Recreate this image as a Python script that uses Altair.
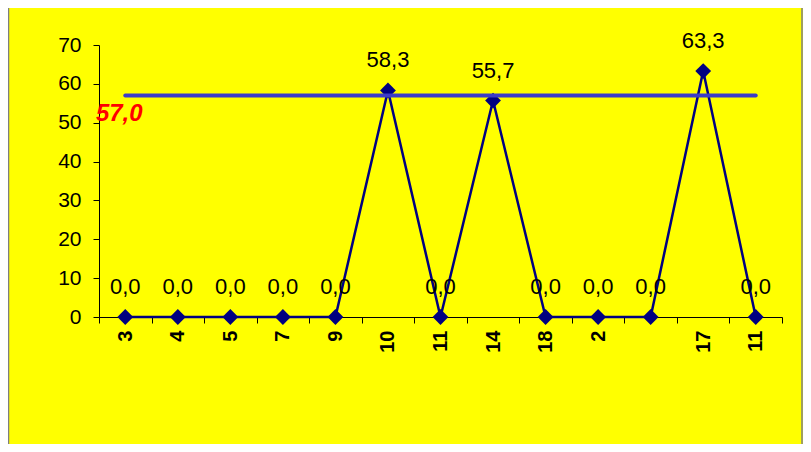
import altair as alt
import pandas as pd

categories = ["3", "4", "5", "7", "9", "10", "11", "14", "18", "2", "", "17", "11"]
values = [0.0, 0.0, 0.0, 0.0, 0.0, 58.3, 0.0, 55.7, 0.0, 0.0, 0.0, 63.3, 0.0]
average = 57.0

FONT = "Liberation Sans"

df = pd.DataFrame({
    "idx": list(range(len(categories))),
    "cat": categories,
    "value": values,
})
df["label"] = df["value"].map(lambda v: f"{v:.1f}".replace(".", ","))

avg_df = pd.DataFrame({
    "idx": [0, len(categories) - 1],
    "value": [average, average],
})
avg_lbl = pd.DataFrame({
    "idx": [0],
    "value": [average],
    "label": [f"{average:.1f}".replace(".", ",")],
})

label_expr = "[" + ",".join("'" + c + "'" for c in categories) + "][datum.value]"

x_enc = alt.X(
    "idx:O",
    scale=alt.Scale(type="band", paddingInner=0, paddingOuter=0),
    axis=alt.Axis(
        title=None,
        labelExpr=label_expr,
        labelAngle=270,
        labelFont=FONT,
        labelFontSize=20,
        labelFontWeight="bold",
        labelColor="black",
        labelPadding=7,
        labelOverlap=False,
        tickBand="extent",
        tickSize=6,
        tickColor="black",
        domainColor="black",
        grid=False,
    ),
)
y_enc = alt.Y(
    "value:Q",
    scale=alt.Scale(domain=[0, 70], nice=False),
    axis=alt.Axis(
        title=None,
        values=[0, 10, 20, 30, 40, 50, 60, 70],
        labelFont=FONT,
        labelFontSize=21,
        labelColor="black",
        labelPadding=12,
        labelOverlap=False,
        tickSize=6,
        tickColor="black",
        domainColor="black",
        grid=False,
    ),
)

base = alt.Chart(df).encode(x=x_enc, y=y_enc)

line = base.mark_line(color="#000080", strokeWidth=2.5)
points = base.mark_point(shape="diamond", filled=True, color="#000080", size=250, opacity=1)
labels = base.mark_text(
    font=FONT, fontSize=22, color="black", dy=-23, baseline="alphabetic", align="center"
).encode(text="label:N")

avg_line = alt.Chart(avg_df).mark_line(color="#3c3cc8", strokeWidth=4, strokeCap="round").encode(
    x=x_enc, y=y_enc
)
avg_text = alt.Chart(avg_lbl).mark_text(
    font=FONT, fontSize=24, fontWeight="bold", fontStyle="italic", color="#ff0000",
    dx=-6, dy=25, baseline="alphabetic", align="center",
).encode(x=x_enc, y=y_enc, text="label:N")

border = alt.Chart(pd.DataFrame({"b": [0]})).mark_rule(color="#7f7f7f", strokeWidth=1.5).encode(
    x=alt.value(-90.5), y=alt.value(-40), y2=alt.value(420)
)
border_r = alt.Chart(pd.DataFrame({"b": [0]})).mark_rule(color="#7f7f7f", strokeWidth=1.5).encode(
    x=alt.value(703), y=alt.value(-40), y2=alt.value(420)
)

chart = alt.layer(line, points, labels, avg_line, avg_text, border, border_r).properties(
    width=683,
    height=272,
    autosize=alt.AutoSizeParams(type="none"),
    padding={"left": 91, "top": 37, "right": 21, "bottom": 127},
    background="#ffff00",
).configure_view(stroke=None)

chart.save("out.html", embed_options={"renderer": "svg", "actions": False})
